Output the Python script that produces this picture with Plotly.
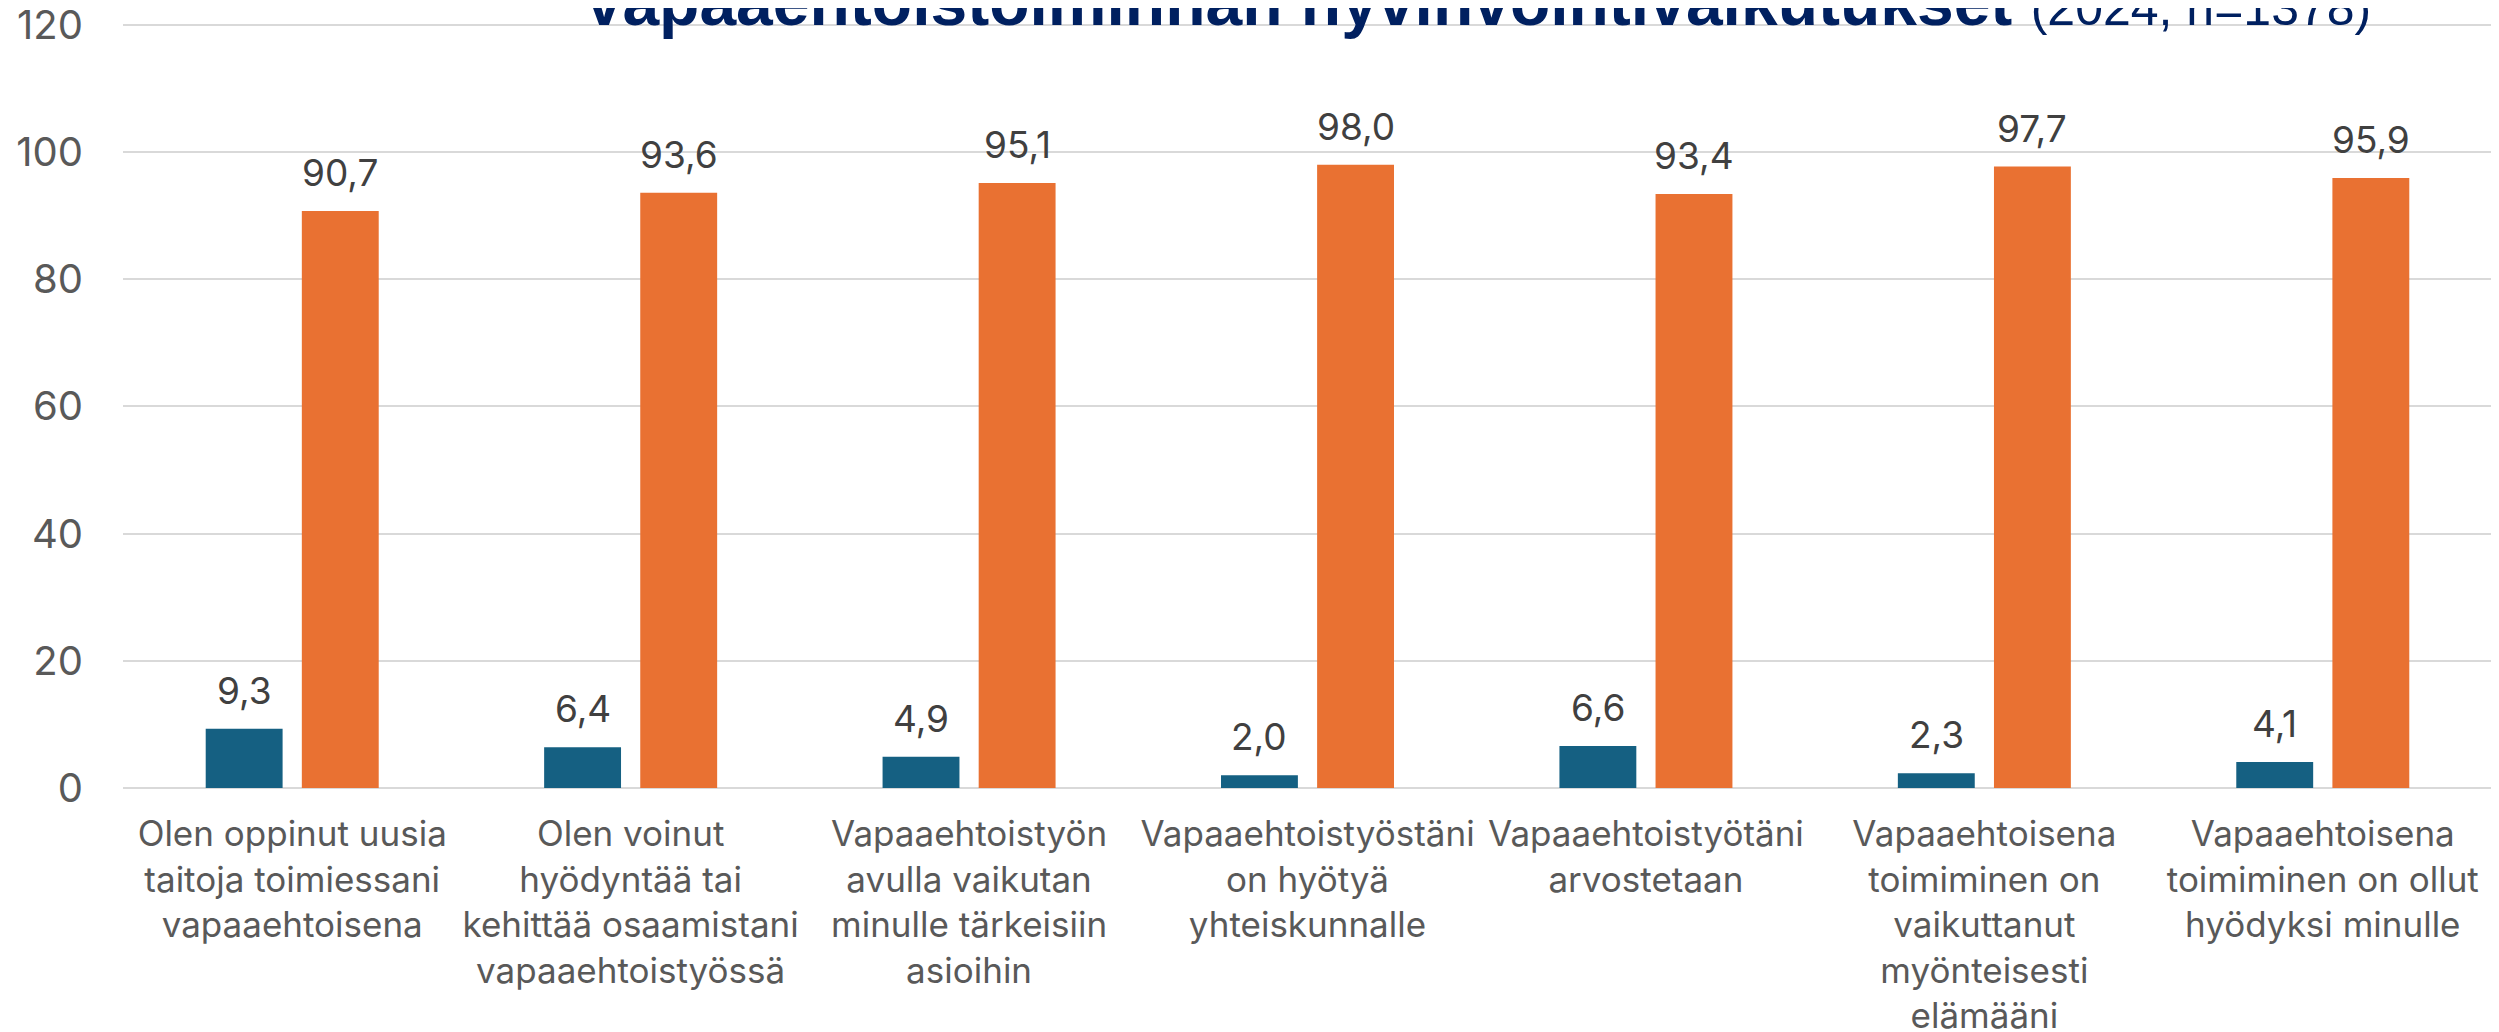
import plotly.graph_objects as go

categories = [
    "Olen oppinut uusia<br>taitoja toimiessani<br>vapaaehtoisena",
    "Olen voinut<br>hyödyntää tai<br>kehittää osaamistani<br>vapaaehtoistyössä",
    "Vapaaehtoistyön<br>avulla vaikutan<br>minulle tärkeisiin<br>asioihin",
    "Vapaaehtoistyöstäni<br>on hyötyä<br>yhteiskunnalle",
    "Vapaaehtoistyötäni<br>arvostetaan",
    "Vapaaehtoisena<br>toimiminen on<br>vaikuttanut<br>myönteisesti<br>elämääni",
    "Vapaaehtoisena<br>toimiminen on ollut<br>hyödyksi minulle",
]
series_names = ["Ei", "Kyllä"]
values_blue = [9.3, 6.4, 4.9, 2.0, 6.6, 2.3, 4.1]
values_orange = [90.7, 93.6, 95.1, 98.0, 93.4, 97.7, 95.9]
y_ticks = [0, 20, 40, 60, 80, 100, 120]

BLUE = "#156082"
ORANGE = "#E97132"
NAVY = "#002060"
LABEL_FONT = "Inter"

W, H = 2499, 1032
ML, MR, MT, MB = 115, 15, 4, 252
BARGAP = 0.432

fig = go.Figure()
fig.add_trace(go.Bar(x=categories, y=values_blue, name=series_names[0],
                     marker=dict(color=BLUE, line=dict(width=0))))
fig.add_trace(go.Bar(x=categories, y=values_orange, name=series_names[1],
                     marker=dict(color=ORANGE, line=dict(width=0))))

cat_w = (W - ML - MR) / len(categories)
slot = cat_w * (1 - BARGAP) / 2
for vals, sh in ((values_blue, -slot / 2), (values_orange, slot / 2)):
    for c, v in zip(categories, vals):
        fig.add_annotation(x=c, y=v, xref="x", yref="y", text=f"{v:.1f}".replace(".", ","),
                           showarrow=False, xshift=sh, yshift=14, yanchor="bottom",
                           font=dict(family=LABEL_FONT, size=37, color="#404040"))

fig.update_layout(
    width=W, height=H,
    margin=dict(l=ML, r=MR, t=MT, b=MB),
    plot_bgcolor="white", paper_bgcolor="white",
    barmode="group", bargap=BARGAP, bargroupgap=0.2,
    showlegend=False,
    separators=", ",
    title=dict(
        text="<b>Vapaaehtoistoiminnan hyvinvointivaikutukset</b> <span style='font-size:50px'>(2024, n=1378)</span>",
        font=dict(family="Liberation Sans, Arial", size=66, color=NAVY),
        xref="container", x=574 / W, xanchor="left",
        yref="container", y=1 - 17 / H, yanchor="bottom",
    ),
    xaxis=dict(tickfont=dict(family=LABEL_FONT, size=35, color="#595959"),
               showgrid=False, showline=False, ticks="", automargin=False,
               ticklabelstandoff=22),
    yaxis=dict(range=[0, 122], tickvals=y_ticks, automargin=False,
               tickfont=dict(family=LABEL_FONT, size=40, color="#595959"),
               ticklabeloverflow="allow",
               showgrid=True, gridcolor="#D9D9D9", gridwidth=2,
               zeroline=True, zerolinecolor="#D9D9D9", zerolinewidth=2,
               showline=False, ticks="", ticklabelstandoff=39),
)

fig.write_html("out.html")
